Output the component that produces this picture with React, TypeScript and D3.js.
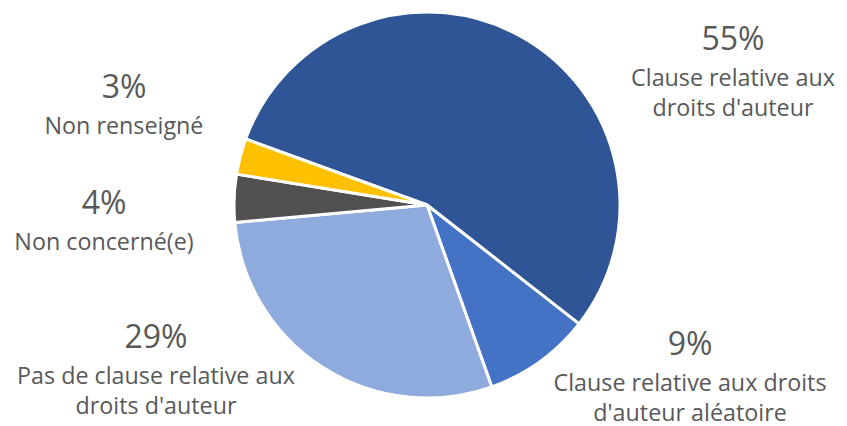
import React from "react";
import * as d3 from "d3";

const categories = [
  "Clause relative aux droits d'auteur",
  "Clause relative aux droits d'auteur aléatoire",
  "Pas de clause relative aux droits d'auteur",
  "Non concerné(e)",
  "Non renseigné",
];
const values = [55, 9, 29, 4, 3];
const colors = ["#2F5597", "#4472C4", "#8FAADC", "#505050", "#FFC000"];
const labelLines = [
  ["Clause relative aux", "droits d'auteur"],
  ["Clause relative aux droits", "d'auteur aléatoire"],
  ["Pas de clause relative aux", "droits d'auteur"],
  ["Non concerné(e)"],
  ["Non renseigné"],
];
// label anchor positions (layout)
const labelPos = [
  [733, 50],
  [690, 355],
  [156, 348],
  [104, 214],
  [124, 98],
];

const W = 847;
const H = 426;
const cx = 427;
const cy = 205;
const R = 193;

export default function App() {
  const pie = d3
    .pie<number>()
    .sort(null)
    .value((d) => d)
    .startAngle((-70 * Math.PI) / 180)
    .endAngle((290 * Math.PI) / 180);
  const arcs = pie(values);
  const arc = d3.arc<d3.PieArcDatum<number>>().innerRadius(0).outerRadius(R);
  const font = "'Open Sans', sans-serif";
  return (
    <svg
      width={W}
      height={H}
      style={{ position: "absolute", left: 0, top: 0, background: "#fff" }}
    >
      <g transform={`translate(${cx},${cy})`}>
        {arcs.map((a, i) => (
          <path
            key={i}
            d={arc(a) || ""}
            fill={colors[i]}
            stroke="#fff"
            strokeWidth={3}
            strokeLinejoin="round"
          />
        ))}
      </g>
      {values.map((v, i) => {
        const [x, y] = labelPos[i];
        return (
          <g key={i} fill="#595959" fontFamily={font} textAnchor="middle">
            <text x={x} y={y} fontSize={32}>
              {`${v}%`}
            </text>
            {labelLines[i].map((l, j) => (
              <text key={j} x={x} y={y + 36 + j * 30} fontSize={23.3}>
                {l}
              </text>
            ))}
          </g>
        );
      })}
    </svg>
  );
}
